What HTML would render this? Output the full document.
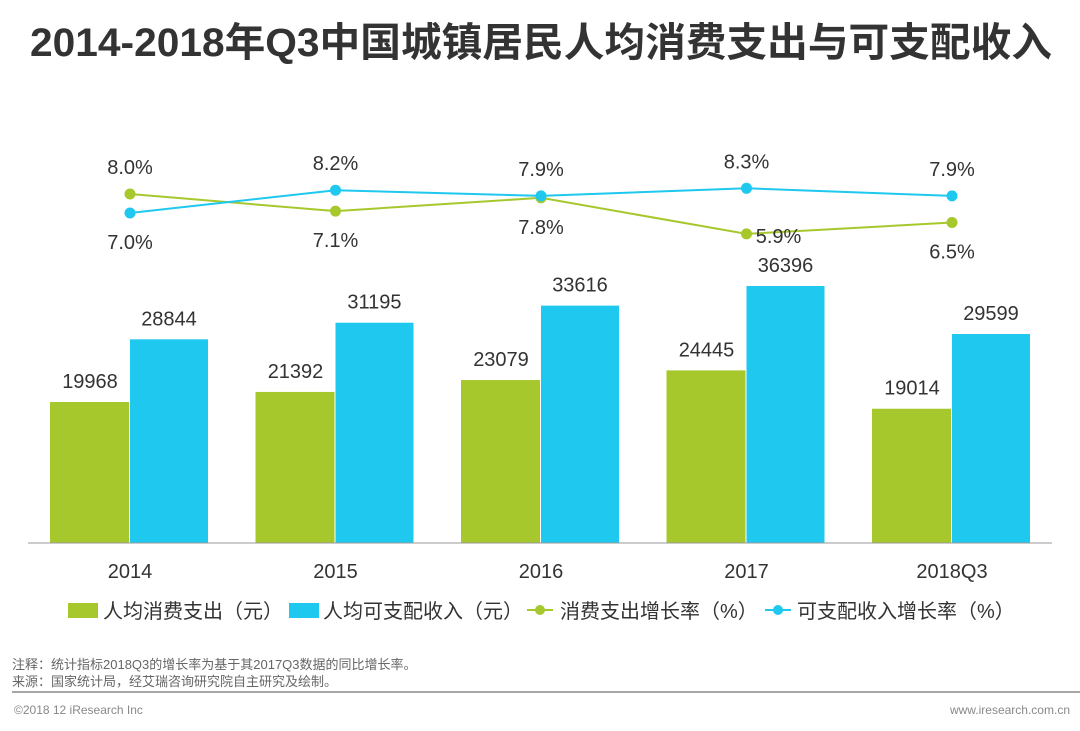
<!DOCTYPE html>
<html><head><meta charset="utf-8"><style>
html,body{margin:0;padding:0;background:#fff;}
body{width:1080px;height:726px;overflow:hidden;font-family:"Liberation Sans","Noto Sans CJK SC",sans-serif;}
</style></head><body>
<svg id="chart" width="1080" height="726" xmlns="http://www.w3.org/2000/svg" font-family="Liberation Sans, Noto Sans CJK SC, sans-serif">
<text x="30" y="56" textLength="1022" lengthAdjust="spacingAndGlyphs" font-size="40" font-weight="bold" fill="#333">2014-2018年Q3中国城镇居民人均消费支出与可支配收入</text>
<g id="bars"></g><g id="lines"></g><g id="xaxis"></g>
<g font-size="20" fill="#333">
<rect x="68" y="603" width="30" height="15" fill="#a6c82c"/>
<text x="103" y="618">人均消费支出（元）</text>
<rect x="289" y="603" width="30" height="15" fill="#1ec8ee"/>
<text x="323" y="618">人均可支配收入（元）</text>
<line x1="527" y1="610" x2="553" y2="610" stroke="#a6c82c" stroke-width="2"/><circle cx="540" cy="610" r="5" fill="#a6c82c"/>
<text x="560" y="618">消费支出增长率（%）</text>
<line x1="765" y1="610" x2="791" y2="610" stroke="#1ec8ee" stroke-width="2"/><circle cx="778" cy="610" r="5" fill="#1ec8ee"/>
<text x="797" y="618">可支配收入增长率（%）</text>
</g>
<text x="12" y="669" font-size="13" fill="#666">注释：统计指标2018Q3的增长率为基于其2017Q3数据的同比增长率。</text>
<text x="12" y="686" font-size="13" fill="#666">来源：国家统计局，经艾瑞咨询研究院自主研究及绘制。</text>
<line x1="12" y1="692" x2="1080" y2="692" stroke="#888" stroke-width="1.5"/>
<text x="14" y="714" font-size="12" fill="#888">©2018 12 iResearch Inc</text>
<text x="1070" y="714" font-size="12" fill="#888" text-anchor="end">www.iresearch.com.cn</text>
</svg>
<script>
const categories=["2014","2015","2016","2017","2018Q3"];
const spending=[19968,21392,23079,24445,19014];
const income=[28844,31195,33616,36396,29599];
const spendingGrowth=[8.0,7.1,7.8,5.9,6.5];
const incomeGrowth=[7.0,8.2,7.9,8.3,7.9];
const NS="http://www.w3.org/2000/svg";
const GREEN="#a6c82c",BLUE="#1ec8ee";
const x0=130,step=205.5,baseY=543,k=141/19968;
const xc=i=>x0+i*step;
const yb=v=>baseY-v*k;
const yl=v=>194-(v-8)*19;
function mk(tag,at,parent){const e=document.createElementNS(NS,tag);for(const a in at)e.setAttribute(a,at[a]);parent.appendChild(e);return e;}
const bars=document.getElementById('bars'),lines=document.getElementById('lines'),xa=document.getElementById('xaxis');
categories.forEach((c,i)=>{
 let r=mk('rect',{x:xc(i)-80,y:yb(spending[i]),width:79,height:spending[i]*k,fill:GREEN},bars);
 
 
 let r2=mk('rect',{x:xc(i),y:yb(income[i]),width:78,height:income[i]*k,fill:BLUE},bars);
 
 
 let t=mk('text',{x:xc(i)-40,y:yb(spending[i])-14,'text-anchor':'middle','font-size':20,fill:'#333'},bars);t.textContent=spending[i];
 
 
 let t2=mk('text',{x:xc(i)+39,y:yb(income[i])-14,'text-anchor':'middle','font-size':20,fill:'#333'},bars);t2.textContent=income[i];
 
 
 let l=mk('text',{x:xc(i),y:578,'text-anchor':'middle','font-size':20,fill:'#333'},xa);l.textContent=c;
 
 
});
let ax=mk('line',{x1:28,y1:baseY,x2:1052,y2:baseY,stroke:'#999','stroke-width':1},xa);


function series(vals,col,name,other){
 const pts=vals.map((v,i)=>xc(i)+','+yl(v)).join(' ');
 let p=mk('polyline',{points:pts,fill:'none',stroke:col,'stroke-width':2},lines);
 
 
 vals.forEach((v,i)=>{
  let c=mk('circle',{cx:xc(i),cy:yl(v),r:5.5,fill:col},lines);
  
  
  const above=v>=other[i];
  const special=(name==='spending-growth'&&i===3);
  let t=mk('text',{x:xc(i)+(special?32:0),y:special?yl(v)+9:(above?yl(v)-20:yl(v)+36),'text-anchor':'middle','font-size':20,fill:'#333'},lines);
  t.textContent=v.toFixed(1)+'%';
  
  
 });
}
series(spendingGrowth,GREEN,'spending-growth',incomeGrowth);
series(incomeGrowth,BLUE,'income-growth',spendingGrowth);
</script>
</body></html>
